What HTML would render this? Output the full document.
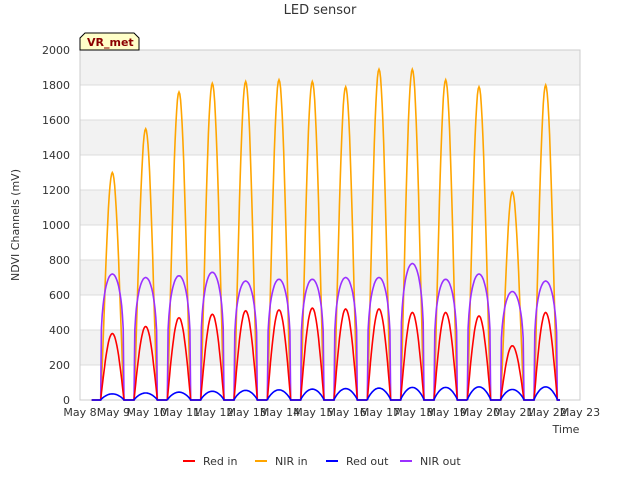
<!DOCTYPE html>
<html><head><meta charset="utf-8"><style>
body{margin:0;background:#fff;font-family:"Liberation Sans","DejaVu Sans",sans-serif}
svg text{font-family:"DejaVu Sans","Liberation Sans",sans-serif}
</style></head><body>
<svg width="640" height="480">
<rect x="80" y="50" width="500" height="350" fill="#ffffff"/>
<g id="grid"></g>
<g id="yt"></g><g id="xt"></g>
<g id="series"></g>
<text x="320" y="14" text-anchor="middle" font-size="13" fill="#333">LED sensor</text>
<text x="19" y="225" text-anchor="middle" font-size="11" fill="#333" transform="rotate(-90 19 225)">NDVI Channels (mV)</text>
<text x="566" y="433" text-anchor="middle" font-size="11" fill="#333">Time</text>
<g><path d="M80,50 L80,38 L85,33 L134,33 L139,38 L139,50 Z" fill="#ffffc8" stroke="#000"/>
<text x="87" y="46" font-size="11" font-weight="bold" fill="#8b0000">VR_met</text></g>
<g id="legend"></g>
</svg>
<script>
const yTicks=[0,200,400,600,800,1000,1200,1400,1600,1800,2000];
const xLabels=["May 8","May 9","May 10","May 11","May 12","May 13","May 14","May 15","May 16","May 17","May 18","May 19","May 20","May 21","May 22","May 23"];
const dayIdx=[1,2,3,4,5,6,7,8,9,10,11,12,13,14];
const redIn=[380,420,470,490,510,515,525,520,520,500,500,480,310,500];
const nirIn=[1300,1550,1760,1810,1820,1830,1820,1790,1890,1890,1830,1790,1190,1800];
const redOut=[35,40,45,50,55,58,62,65,68,72,72,75,60,75];
const nirOut=[720,700,710,730,680,690,690,700,700,780,690,720,620,680];
const NS="http://www.w3.org/2000/svg";
const X=d=>80+d*500/15, Y=v=>400-v*350/2000;
function el(p,t,a){const e=document.createElementNS(NS,t);for(const k in a)e.setAttribute(k,a[k]);p.appendChild(e);return e;}
const grid=document.getElementById('grid'),yt=document.getElementById('yt'),xt=document.getElementById('xt');
for(let v=0;v<2000;v+=400){el(grid,'rect',{x:80,y:Y(v+400),width:500,height:Y(v+200)-Y(v+400),fill:'#f2f2f2'});}
yTicks.forEach(v=>{const l=el(grid,'line',{x1:80,x2:580,y1:Y(v),y2:Y(v),stroke:'#dcdcdc'});


const t=el(yt,'text',{x:70,y:Y(v)+4,'text-anchor':'end','font-size':11,fill:'#333'});t.textContent=v;

});
el(grid,'rect',{x:80,y:50,width:500,height:350,fill:'none',stroke:'#ccc'});
xLabels.forEach((s,i)=>{const t=el(xt,'text',{x:X(i),y:416,'text-anchor':'middle','font-size':11,fill:'#333'});t.textContent=s;

});
function series(vals,color,pw,name){let d='M'+X(0.35)+','+Y(0);
dayIdx.forEach((day,i)=>{const a=day-0.38,b=day+0.32;d+=' L'+X(a)+','+Y(0);
for(let k=0;k<=30;k++){const f=k/30;const v=vals[i]*Math.pow(Math.sin(Math.PI*f),pw);d+=' L'+X(a+(b-a)*f).toFixed(1)+','+Y(v).toFixed(1);}
});d+=' L'+X(14.4)+','+Y(0);
const p=el(document.getElementById('series'),'path',{d:d,fill:'none',stroke:color,'stroke-width':1.6});

}
series(nirIn,'orange',1.2,'nir-in-line');
series(nirOut,'#9b30ff',0.25,'nir-out-line');
series(redIn,'red',1.0,'red-in-line');
series(redOut,'blue',0.8,'red-out-line');
const leg=[["Red in","red",183],["NIR in","orange",255],["Red out","blue",326],["NIR out","#9b30ff",400]];
const lg=document.getElementById('legend');
leg.forEach(([n,c,x])=>{const g=el(lg,'g',{});


el(g,'line',{x1:x,x2:x+12,y1:461,y2:461,stroke:c,'stroke-width':2});
const t=el(g,'text',{x:x+20,y:465,'font-size':11,fill:'#333'});t.textContent=n;});
</script>
</body></html>
